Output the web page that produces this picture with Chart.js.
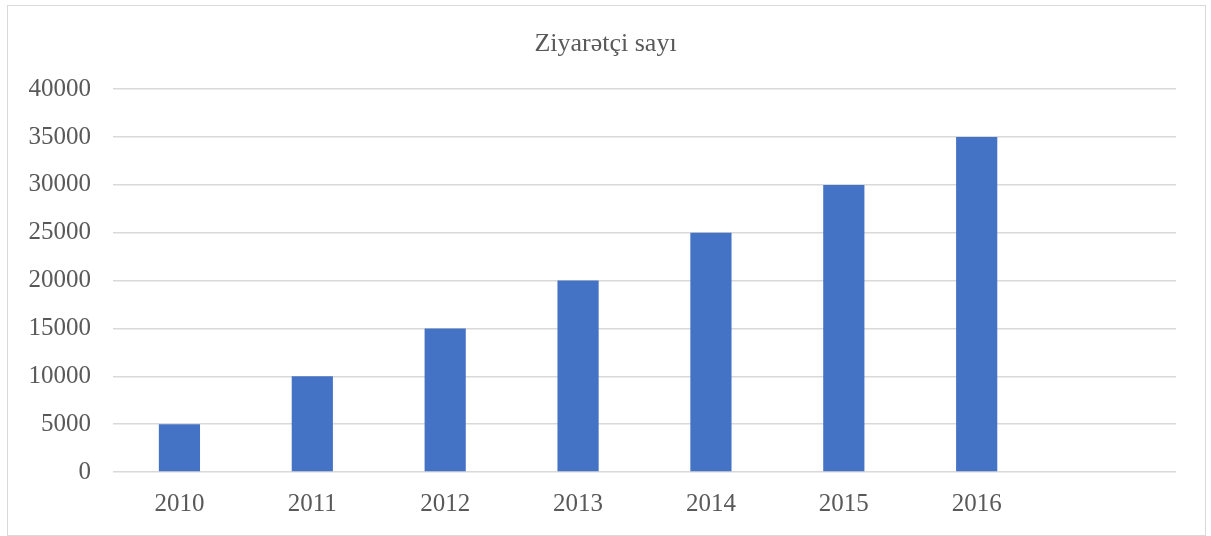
<!DOCTYPE html>
<html>
<head>
<meta charset="utf-8">
<script src="https://cdn.jsdelivr.net/npm/chart.js@4"></script>
<style>
  html, body { margin: 0; padding: 0; background: #fff; }
  #wrap { position: relative; width: 1211px; height: 536px; }
  #frame { position: absolute; left: 7px; top: 5px; width: 1197px; height: 529px; border: 1px solid #d9d9d9; }
  #chart { position: absolute; left: 0; top: 0; }
</style>
</head>
<body>
<div id="wrap">
  <div id="frame"></div>
  <canvas id="chart" width="1211" height="536"></canvas>
</div>
<script>
const years = ["2010", "2011", "2012", "2013", "2014", "2015", "2016", ""];
const visitors = [5000, 10000, 15000, 20000, 25000, 30000, 35000, null];
const titleText = "Ziyarətçi sayı";

const ctx = document.getElementById("chart").getContext("2d");
const family = "'Liberation Serif', 'Times New Roman', serif";
const font = { family, size: 25 };

new Chart(ctx, {
  type: "bar",
  data: {
    labels: years,
    datasets: [{
      label: titleText,
      data: visitors,
      backgroundColor: "#4472c4",
      categoryPercentage: 1,
      barPercentage: 0.31,
    }],
  },
  options: {
    responsive: false,
    animation: false,
    layout: { padding: 0 },
    plugins: {
      legend: { display: false },
      tooltip: { enabled: false },
      title: {
        display: true,
        text: titleText,
        color: "#595959",
        font: { family, size: 26, weight: "normal", lineHeight: 1.2 },
        padding: { top: 29, bottom: 29 },
      },
    },
    scales: {
      x: {
        grid: { display: false, drawTicks: false },
        border: { display: false },
        ticks: { color: "#595959", font, padding: 17, maxRotation: 0 },
        afterFit: (s) => { s.height = 64; },
      },
      y: {
        min: 0,
        max: 40000,
        ticks: { stepSize: 5000, color: "#595959", font, padding: 22, callback: (v) => String(v) },
        grid: { color: "#d9d9d9", lineWidth: 1.5, drawTicks: false },
        border: { display: false },
        afterFit: (s) => { s.width = 113; },
      },
      // empty right margin so the title stays centred on the whole frame
      yRight: {
        position: "right",
        display: true,
        grid: { drawOnChartArea: false, drawTicks: false },
        border: { display: false },
        ticks: { display: false },
        afterFit: (s) => { s.width = 35; },
      },
    },
  },
});
</script>
</body>
</html>
